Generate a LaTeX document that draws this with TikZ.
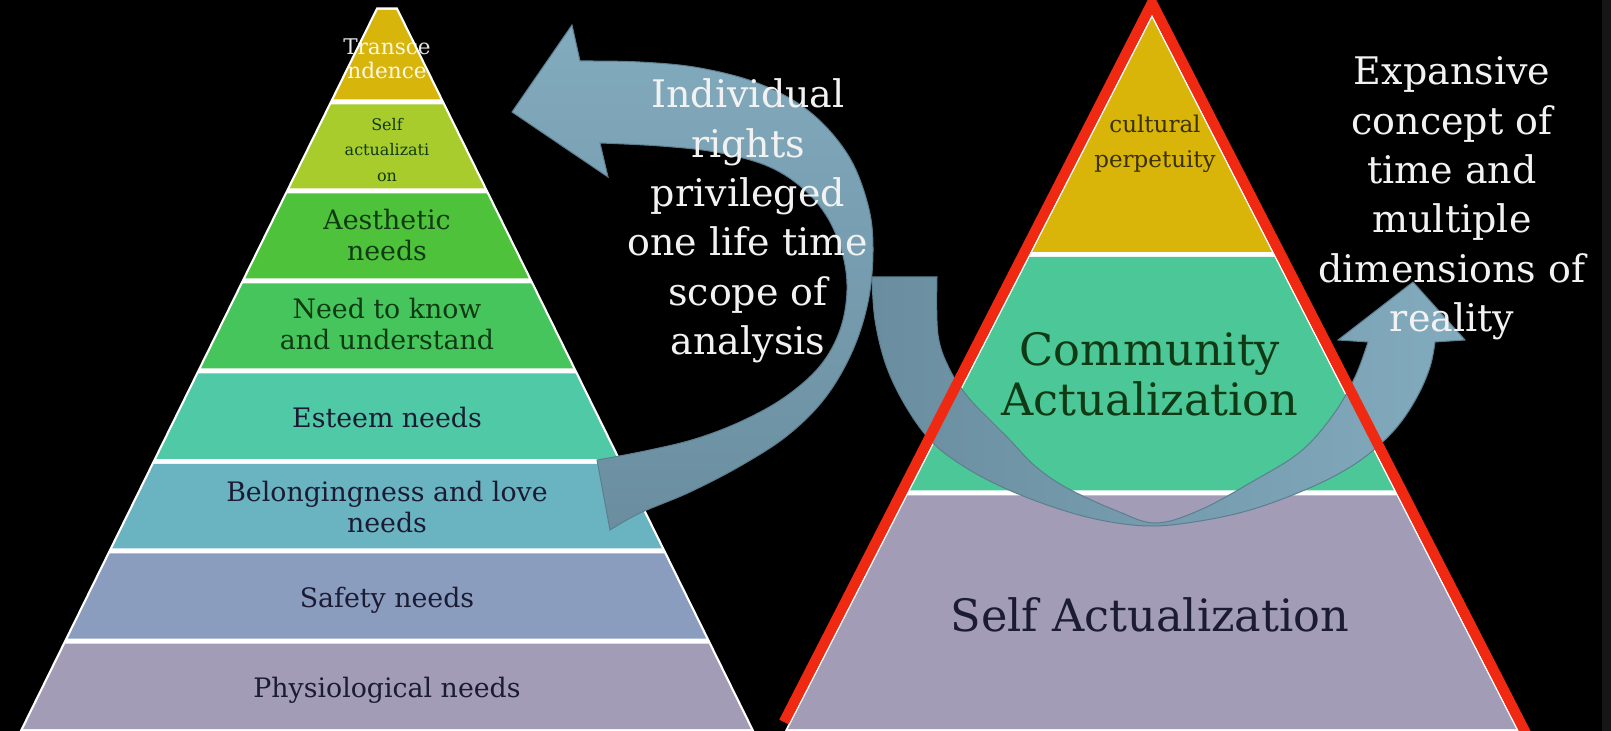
\documentclass[tikz,border=0pt]{standalone}
\usepackage{fontspec}
\setmainfont{DejaVu Serif}
\definecolor{bgstrip}{HTML}{161616}
\definecolor{ly1}{HTML}{D8B50A}
\definecolor{ly2}{HTML}{A8CC2C}
\definecolor{ly3}{HTML}{4DC23A}
\definecolor{ly4}{HTML}{46C55C}
\definecolor{ly5}{HTML}{50C9A6}
\definecolor{ly6}{HTML}{6AB3C0}
\definecolor{ly7}{HTML}{8B9DBF}
\definecolor{ly8}{HTML}{A29CB6}
\definecolor{ry1}{HTML}{D8B508}
\definecolor{ry2}{HTML}{4CC797}
\definecolor{ry3}{HTML}{A29CB6}
\definecolor{redline}{HTML}{F02A12}
\definecolor{arrlight}{HTML}{82ABBD}
\definecolor{arrdark}{HTML}{6A8EA0}
\definecolor{arredge}{HTML}{5C7F90}
\definecolor{txtnavy}{HTML}{1B1B33}
\definecolor{txtgreen}{HTML}{103A14}
\definecolor{txtolive}{HTML}{3A3000}
\definecolor{txtwhite}{HTML}{F2F2F2}
\tikzset{
  txtbase/.style={inner sep=0pt, align=center},
  labstyle/.style={txtbase, text=txtnavy, font=\fontsize{13.4pt}{15.8pt}\selectfont},
  labgreen/.style={labstyle, text=txtgreen},
  smallstyle/.style={txtbase, text=txtgreen, font=\fontsize{8pt}{12.8pt}\selectfont},
  transcstyle/.style={txtbase, text=white, text opacity=0.9, font=\fontsize{10.8pt}{12pt}\selectfont},
  cultstyle/.style={txtbase, text=txtolive, font=\fontsize{11.5pt}{17.5pt}\selectfont},
  bigstyle/.style={txtbase, text=txtnavy, font=\fontsize{22.3pt}{25pt}\selectfont},
  whitestyle/.style={txtbase, text=txtwhite, font=\fontsize{19pt}{24.7pt}\selectfont},
  arrowone/.style={top color=arrlight, bottom color=arrdark, draw=arredge, line width=0.5pt},
  arrowtwo/.style={left color=arrdark, right color=arrlight, draw=arredge, line width=0.5pt},
  redtri/.style={draw=redline, line width=5.2pt, line join=miter, miter limit=20}
}
\begin{document}
\begin{tikzpicture}[x=0.5pt,y=-0.5pt]
\useasboundingbox (0,0) rectangle (1611,731);
\fill[black] (0,0) rectangle (1611,731);
\fill[bgstrip] (1602,0) rectangle (1611,731);
\begin{scope}
\clip (0,0) rectangle (1602,731);
% left pyramid
\fill[white] ({387-0.493*(7.5+12)-1},7.5) -- ({387+0.493*(7.5+12)+1},7.5) -- ({387+0.493*(740+12)+1},740) -- ({387-0.493*(740+12)-1},740) -- cycle;
\foreach \ya/\yb/\cc in {10/99.5/ly1,104.5/188.5/ly2,193.5/278.5/ly3,283.5/368.5/ly4,373.5/459/ly5,464/548.5/ly6,553.5/638.5/ly7,643.5/729/ly8}{
  \fill[\cc] ({387-0.493*(\ya+12)+1.5},\ya) -- ({387+0.493*(\ya+12)-1.5},\ya) -- ({387+0.493*(\yb+12)-1.5},\yb) -- ({387-0.493*(\yb+12)+1.5},\yb) -- cycle;
}
% right pyramid
\fill[white] (1152,14) -- ({1152+0.512*(740-14)},740) -- ({1152-0.512*(740-14)},740) -- cycle;
\fill[ry1] (1152,18) -- ({1152+0.512*(252-14)-2},252) -- ({1152-0.512*(252-14)+2},252) -- cycle;
\foreach \ya/\yb/\cc in {257/490.5/ry2,495.5/729/ry3}{
  \fill[\cc] ({1152-0.512*(\ya-14)+2},\ya) -- ({1152+0.512*(\ya-14)-2},\ya) -- ({1152+0.512*(\yb-14)-2},\yb) -- ({1152-0.512*(\yb-14)+2},\yb) -- cycle;
}
% arrow one
\path[arrowone] (512,112) -- (572,25) -- (580,61)
  -- plot[smooth, tension=0.6] coordinates {(580,61) (640,62) (700,68) (760,84) (810,112) (848,155) (868,205) (873,250) (868,302) (852,352) (825,398) (788,435) (742,465) (690,492) (640,513) (610,530)}
  -- (597,460)
  -- plot[smooth, tension=0.6] coordinates {(597,460) (645,451) (695,439) (742,421) (785,397) (820,366) (840,330) (847,290) (842,252) (826,215) (800,186) (765,165) (715,152) (660,146) (600,143)}
  -- (608,177) -- cycle;
% arrow two
\path[arrowtwo] (872,277) -- (937,277)
  -- plot[smooth, tension=0.6] coordinates {(937,277) (938,335) (950,370) (968,397) (990,420) (1010,440) (1035,466) (1067,488) (1117,511) (1156,523) (1200,510) (1250,483) (1300,452) (1333,415) (1355,377) (1368,342)}
  -- (1338,340) -- (1413,282) -- (1465,340) -- (1435,342)
  -- plot[smooth, tension=0.6] coordinates {(1435,342) (1430,367) (1417,397) (1397,427) (1370,453) (1340,473) (1300,492) (1250,510) (1200,521) (1150,526) (1100,520) (1050,506) (1000,486) (960,464) (930,440) (905,405) (886,365) (875,320) (872,277)}
  -- cycle;
% red triangle
\draw[redtri] (783.9,722) -- (1152,3) -- (1531.9,745);
\end{scope}
% labels left pyramid
\node[transcstyle] (transc) at (387,59) {Transce\\ndence};
\node[smallstyle] (selfact) at (387,150) {Self\\actualizati\\on};
\node[labgreen] (aesth) at (387,235) {Aesthetic\\needs};
\node[labgreen] (needk) at (387,324) {Need to know\\and understand};
\node[labstyle, anchor=base] (esteem) at (387,428) {Esteem needs};
\node[labstyle] (belong) at (387,507) {Belongingness and love\\needs};
\node[labstyle, anchor=base] (safety) at (387,607) {Safety needs};
\node[labstyle, anchor=base] (physio) at (387,697) {Physiological needs};
% labels right pyramid
\node[cultstyle] (cult) at (1155,144) {cultural\\perpetuity};
\node[bigstyle, text=txtgreen] (commun) at (1150,374) {Community\\Actualization};
\node[bigstyle, anchor=base] (selfact2) at (1150,632) {Self Actualization};
% white texts
\node[whitestyle] (indiv) at (748,221) {Individual\\rights\\privileged\\one life time\\scope of\\analysis};
\node[whitestyle] (expans) at (1452,198.5) {Expansive\\concept of\\time and\\multiple\\dimensions of\\reality};
\end{tikzpicture}
\end{document}
